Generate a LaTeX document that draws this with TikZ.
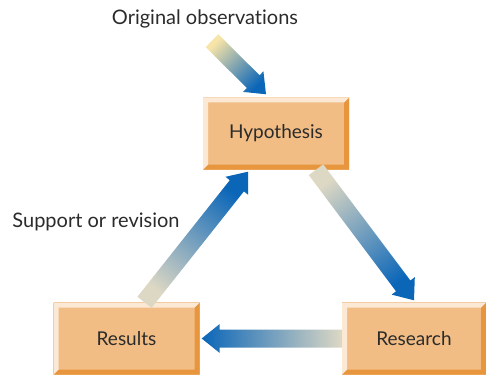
\documentclass[tikz,border=0pt]{standalone}
\usepackage{fontspec}
\setmainfont{Lato}[Ligatures={NoCommon,NoDiscretionary}]
\usetikzlibrary{calc}

\definecolor{boxtan}{HTML}{F1BD85}
\definecolor{boxlight}{HTML}{FBE7D0}
\definecolor{boxdark}{HTML}{E8963E}
\definecolor{boxedge}{HTML}{FBE9D6}
\definecolor{arrowblue}{HTML}{0B66B8}
\definecolor{arrowmid}{HTML}{6F94C2}
\definecolor{arrowtail}{HTML}{DDD8C4}
\definecolor{obstail}{HTML}{F7E4A8}
\definecolor{textgrey}{HTML}{2B2B2B}

\tikzset{
  stagebox/.style={minimum width=146pt, minimum height=72pt, inner sep=0pt,
    font=\fontsize{19}{21}\selectfont, text=textgrey,
    left color=boxtan, middle color=boxlight, right color=boxtan, shading angle=135,
    path picture={
      \fill[boxdark] (path picture bounding box.north east) -- (path picture bounding box.south east)
        -- (path picture bounding box.south west) -- ([shift={(5pt,5pt)}]path picture bounding box.south west)
        -- ([shift={(-5pt,5pt)}]path picture bounding box.south east) -- ([shift={(-5pt,-5pt)}]path picture bounding box.north east) -- cycle;
      \fill[boxedge] (path picture bounding box.north east) -- (path picture bounding box.north west)
        -- (path picture bounding box.south west) -- ([shift={(5pt,5pt)}]path picture bounding box.south west)
        -- ([shift={(5pt,-5pt)}]path picture bounding box.north west) -- ([shift={(-5pt,-5pt)}]path picture bounding box.north east) -- cycle;
    }},
  label/.style={font=\fontsize{20}{22}\selectfont, text=textgrey}
}

% fat shaded arrow from #2 to #3, tail colour #1
\newcommand{\fatarrow}[3][arrowtail]{%
  \path let \p1=(#2), \p2=(#3), \n1={atan2(\y2-\y1,\x2-\x1)}, \n2={veclen(\x2-\x1,\y2-\y1)} in
    \pgfextra{\xdef\fatang{\n1}\xdef\fatlen{\n2}};
  \shade[shift={(#2)}, rotate=\fatang, left color=#1, middle color=arrowmid, right color=arrowblue,
      shading angle={90+\fatang}]
    (0pt,-9pt) -- ({\fatlen-18pt},-9pt) -- ({\fatlen-18pt},-14.5pt) -- ({\fatlen},0pt)
    -- ({\fatlen-18pt},14.5pt) -- ({\fatlen-18pt},9pt) -- (0pt,9pt) -- cycle;
}

\begin{document}
\begin{tikzpicture}[x=1pt,y=-1pt]
  \useasboundingbox (0,0) rectangle (486,374);

  \node[stagebox] (hyp) at (276,133.5) {Hypothesis};
  \node[stagebox] (res) at (126.5,338.5) {Results};
  \node[stagebox, minimum width=144pt] (rsch) at (414,338.5) {Research};

  \node[label] (obs) at (205,19) {Original observations};
  \node[label] (supp) at (96,222) {Support or revision};

  \fatarrow[obstail]{$(obs.south)+(7,9)$}{$(hyp.north)+(-10,-3)$}
  \fatarrow{$(hyp.south)+(40,0)$}{$(rsch.north)+(0,-2)$}
  \fatarrow{rsch.west}{$(res.east)+(2,0)$}
  \fatarrow{$(res.north)+(18,0)$}{$(hyp.south)+(-28,2)$}
\end{tikzpicture}
\end{document}
